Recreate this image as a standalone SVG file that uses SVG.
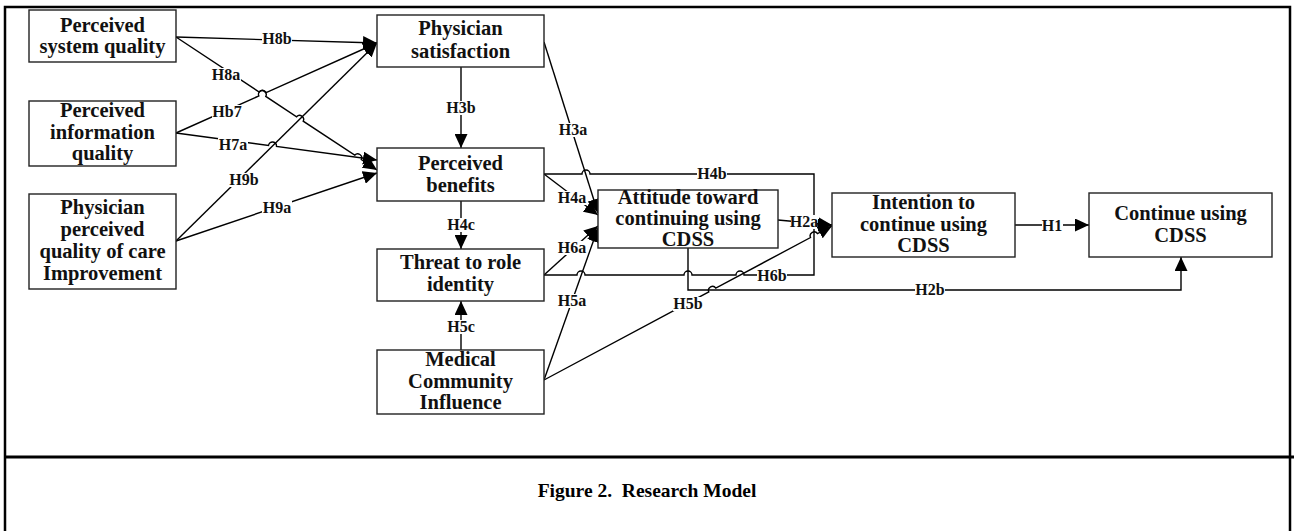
<svg xmlns="http://www.w3.org/2000/svg" width="1294" height="531" viewBox="0 0 1294 531">
<style>
.frame{fill:none;stroke:#000;stroke-width:2.5}
.box rect{fill:#fff;stroke:#222;stroke-width:1.4}
.box text{font-family:"Liberation Serif",serif;font-weight:bold;font-size:20.5px;fill:#111;text-anchor:middle}
.c{fill:none;stroke:#000;stroke-width:1.4}
.lb rect{fill:#fff}
.lb text{font-family:"Liberation Serif",serif;font-weight:bold;font-size:16px;fill:#111;text-anchor:middle}
.cap{font-family:"Liberation Serif",serif;font-weight:bold;font-size:19.5px;fill:#000;text-anchor:middle}
</style>
<defs>
<marker id="ah" markerUnits="userSpaceOnUse" markerWidth="15" markerHeight="13" refX="14" refY="6.5" orient="auto">
<path d="M0,0 L14,6.5 L0,13 z" fill="#000"/>
</marker>
</defs>
<rect width="1294" height="531" fill="#fff"/>
<rect class="frame" x="5" y="7" width="1285" height="530"/>
<line x1="5" y1="457" x2="1294" y2="457" stroke="#000" stroke-width="3"/>
<text class="cap" x="647" y="497">Figure 2.&#160; Research Model</text>

<g id="connectors">
<path class="c" d="M176,37 L377,43" marker-end="url(#ah)"/>
<path class="c" d="M176,37 L259.2,92 A4,4 0 0 1 265.8,96.4 L296.6,116.8 A4,4 0 0 1 303.2,121.2 L354.7,155.2 A4,4 0 0 1 361.3,159.6 L377,170" marker-end="url(#ah)"/>
<path class="c" d="M176,133 L258.85,95.94 A4,4 0 0 1 266.15,92.66 L377,43" marker-end="url(#ah)"/>
<path class="c" d="M176,133 L268.5,145.5 A4,4 0 0 1 276.5,146.5 L377,160" marker-end="url(#ah)"/>
<path class="c" d="M176,241 L377,43" marker-end="url(#ah)"/>
<path class="c" d="M176,241 L377,173" marker-end="url(#ah)"/>
<path class="c" d="M461,67 L461,148" marker-end="url(#ah)"/>
<path class="c" d="M461,201 L461,249" marker-end="url(#ah)"/>
<path class="c" d="M461,350 L461,301" marker-end="url(#ah)"/>
<path class="c" d="M544,42 L598,213" marker-end="url(#ah)"/>
<path class="c" d="M544,174 L598,215" marker-end="url(#ah)"/>
<path class="c" d="M544,275 L598,226" marker-end="url(#ah)"/>
<path class="c" d="M544,380 L598,228" marker-end="url(#ah)"/>
<path class="c" d="M544,174 L582,174 A4,4 0 0 1 590,174 L814,174 L814,225 L832,225" marker-end="url(#ah)"/>
<path class="c" d="M544,275 L577,275 A4,4 0 0 1 585,275 L684,275 A4,4 0 0 1 692,275 L736,275 A4,4 0 0 1 744,275 L814,275 L814,225"/>
<path class="c" d="M778,220 L832,225" marker-end="url(#ah)"/>
<path class="c" d="M544,380 L708.8,291.9 A4,4 0 0 1 715.8,288.1 L810.5,237.5 A4,4 0 0 1 817.5,233.7 L832,226" marker-end="url(#ah)"/>
<path class="c" d="M688,248 L688,290 L1181,290 L1181,257" marker-end="url(#ah)"/>
<path class="c" d="M1015,225 L1089,225" marker-end="url(#ah)"/>

<g class="lb">
<rect x="262" y="32" width="30" height="14"/><text x="277" y="44">H8b</text>
<rect x="211" y="68" width="30" height="14"/><text x="226" y="80">H8a</text>
<rect x="212" y="105" width="30" height="14"/><text x="227" y="117">Hb7</text>
<rect x="218" y="138" width="30" height="14"/><text x="233" y="150">H7a</text>
<rect x="229" y="173" width="30" height="14"/><text x="244" y="185">H9b</text>
<rect x="262" y="201" width="30" height="14"/><text x="277" y="213">H9a</text>
<rect x="446" y="101" width="30" height="14"/><text x="461" y="113">H3b</text>
<rect x="558" y="123" width="30" height="14"/><text x="573" y="135">H3a</text>
<rect x="557" y="191" width="30" height="14"/><text x="572" y="203">H4a</text>
<rect x="446" y="218" width="30" height="14"/><text x="461" y="230">H4c</text>
<rect x="557" y="241" width="30" height="14"/><text x="572" y="253">H6a</text>
<rect x="557" y="294" width="30" height="14"/><text x="572" y="306">H5a</text>
<rect x="446" y="320" width="30" height="14"/><text x="461" y="332">H5c</text>
<rect x="697" y="167" width="30" height="14"/><text x="712" y="179">H4b</text>
<rect x="757" y="269" width="30" height="14"/><text x="772" y="281">H6b</text>
<rect x="673" y="297" width="30" height="14"/><text x="688" y="309">H5b</text>
<rect x="791" y="215" width="26" height="14"/><text x="804" y="227">H2a</text>
<rect x="915" y="283" width="30" height="14"/><text x="930" y="295">H2b</text>
<rect x="1042" y="219" width="21" height="14"/><text x="1052" y="231">H1</text>
</g>
</g>

<g id="n_system_quality" class="box">
<rect x="29" y="10" width="147" height="52"/>
<text x="102.5" y="32">Perceived</text>
<text x="102.5" y="53">system quality</text>
</g>
<g id="n_information_quality" class="box">
<rect x="29" y="101" width="147" height="65"/>
<text x="102.5" y="117">Perceived</text>
<text x="102.5" y="139">information</text>
<text x="102.5" y="160">quality</text>
</g>
<g id="n_quality_of_care" class="box">
<rect x="29" y="194" width="147" height="95"/>
<text x="102.5" y="214">Physician</text>
<text x="102.5" y="236">perceived</text>
<text x="102.5" y="258">quality of care</text>
<text x="102.5" y="280">Improvement</text>
</g>
<g id="n_physician_satisfaction" class="box">
<rect x="377" y="15" width="167" height="52"/>
<text x="460.5" y="35">Physician</text>
<text x="460.5" y="58">satisfaction</text>
</g>
<g id="n_perceived_benefits" class="box">
<rect x="377" y="148" width="167" height="53"/>
<text x="460.5" y="170">Perceived</text>
<text x="460.5" y="192">benefits</text>
</g>
<g id="n_threat" class="box">
<rect x="377" y="249" width="167" height="52"/>
<text x="460.5" y="269">Threat to role</text>
<text x="460.5" y="291">identity</text>
</g>
<g id="n_medical_community" class="box">
<rect x="377" y="350" width="167" height="64"/>
<text x="460.5" y="366">Medical</text>
<text x="460.5" y="388">Community</text>
<text x="460.5" y="409">Influence</text>
</g>
<g id="n_attitude" class="box">
<rect x="598" y="190" width="180" height="58"/>
<text x="688" y="204">Attitude toward</text>
<text x="688" y="225">continuing using</text>
<text x="688" y="246">CDSS</text>
</g>
<g id="n_intention" class="box">
<rect x="832" y="193" width="183" height="64"/>
<text x="923.5" y="209">Intention to</text>
<text x="923.5" y="231">continue using</text>
<text x="923.5" y="252">CDSS</text>
</g>
<g id="n_continue" class="box">
<rect x="1089" y="193" width="183" height="64"/>
<text x="1180.5" y="220">Continue using</text>
<text x="1180.5" y="242">CDSS</text>
</g>
</svg>
